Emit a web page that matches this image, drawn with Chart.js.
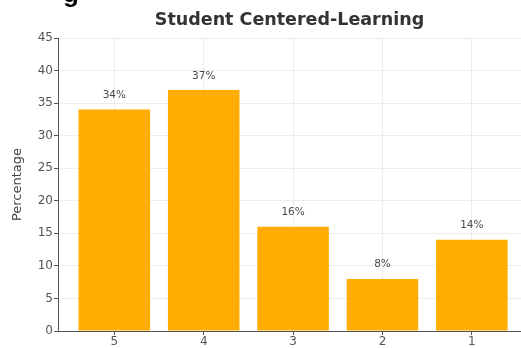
<!DOCTYPE html>
<html>
<head>
<meta charset="utf-8">
<script src="https://cdn.jsdelivr.net/npm/chart.js@4.4.1/dist/chart.umd.min.js"></script>
<style>
    html, body { margin: 0; padding: 0; background: #fff; overflow: hidden; }
    #wrap { position: relative; width: 521px; height: 348px; }
    #heading { position: absolute; left: 63px; top: -22px; font: bold 26px "Liberation Sans", Arial, sans-serif; color: #000; }
</style>
</head>
<body>
<div id="wrap">
    <canvas id="chart" width="521" height="348"></canvas>
    <div id="heading">g</div>
</div>
<script>
const categories = ['5', '4', '3', '2', '1'];
const percentages = [34, 37, 16, 8, 14];
const yTicks = [0, 5, 10, 15, 20, 25, 30, 35, 40, 45];

const positions = categories.map((_, i) => i);

// percent labels above each bar
const barLabels = {
    id: 'barLabels',
    afterDatasetsDraw(chart) {
        const ctx = chart.ctx;
        const meta = chart.getDatasetMeta(0);
        ctx.save();
        ctx.font = '10.5px "DejaVu Sans", sans-serif';
        ctx.fillStyle = '#4a4a4a';
        ctx.textAlign = 'center';
        ctx.textBaseline = 'bottom';
        meta.data.forEach((bar, i) => {
            ctx.fillText(`${percentages[i]}%`, bar.x, bar.y - 9);
        });
        ctx.restore();
    }
};

chart = new Chart(document.getElementById('chart'), {
    type: 'bar',
    data: {
        datasets: [{
            label: 'Percentage',
            data: positions.map((x, i) => ({ x, y: percentages[i] })),
            backgroundColor: '#ffad00',
            borderWidth: 0,
            categoryPercentage: 1,
            barPercentage: 0.8
        }]
    },
    options: {
        responsive: false,
        animation: false,
        layout: { padding: { left: 0, right: 0, top: 0, bottom: 0 } },
        scales: {
            x: {
                type: 'linear',
                min: -0.63,
                max: 4.55,
                offset: false,
                afterBuildTicks: s => { s.ticks = positions.map(v => ({ value: v })); },
                afterFit: s => { s.height = 17; },
                ticks: {
                    callback: v => categories[v],
                    font: { family: 'DejaVu Sans', size: 12 },
                    color: '#555',
                    padding: 0,
                    maxRotation: 0
                },
                grid: { offset: false, color: '#ececec', tickColor: '#555', tickLength: 4 },
                border: { color: '#555', width: 1 }
            },
            y: {
                min: 0,
                max: 45,
                afterBuildTicks: s => { s.ticks = yTicks.map(v => ({ value: v })); },
                afterFit: s => { s.width = 58; },
                ticks: {
                    font: { family: 'DejaVu Sans', size: 12 },
                    color: '#555',
                    padding: 1
                },
                grid: { color: '#ececec', tickColor: '#555', tickLength: 4 },
                border: { color: '#555', width: 1 },
                title: {
                    display: true,
                    text: 'Percentage',
                    font: { family: 'DejaVu Sans', size: 13 },
                    color: '#444',
                    padding: { top: 10, bottom: 0 }
                }
            }
        },
        plugins: {
            legend: { display: false },
            tooltip: { enabled: false },
            title: {
                display: true,
                fullSize: false,
                text: 'Student Centered-Learning',
                font: { family: 'DejaVu Sans', size: 17.5, weight: 'bold' },
                color: '#333',
                padding: { top: 10, bottom: 7 }
            }
        }
    },
    plugins: [barLabels]
});
</script>
</body>
</html>
